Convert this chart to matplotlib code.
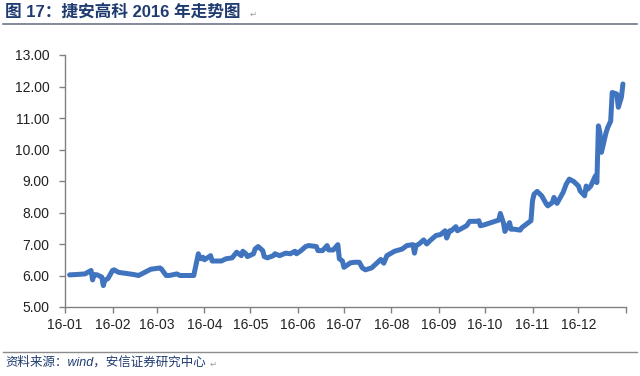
"""捷安高科 2016 年走势图."""
import datetime as dt

import matplotlib
matplotlib.use("Agg")
import matplotlib.pyplot as plt

plt.rcParams['font.family'] = ['Liberation Sans', 'Noto Sans CJK SC', 'DejaVu Sans']

line_color = "#4174BE"
title_color = "#1F3B70"
axis_color = "#808080"

dates = ["2016-01-04", "2016-01-08", "2016-01-14", "2016-01-18", "2016-01-19",
         "2016-01-20", "2016-01-22", "2016-01-25", "2016-01-26", "2016-01-27",
         "2016-01-29", "2016-02-01", "2016-02-02", "2016-02-05", "2016-02-15",
         "2016-02-18", "2016-02-22", "2016-02-24", "2016-02-26", "2016-03-03",
         "2016-03-04", "2016-03-07", "2016-03-09", "2016-03-14", "2016-03-16",
         "2016-03-25", "2016-03-28", "2016-03-29", "2016-03-30", "2016-03-31",
         "2016-04-01", "2016-04-05", "2016-04-06", "2016-04-12", "2016-04-15",
         "2016-04-19", "2016-04-22", "2016-04-25", "2016-04-26", "2016-04-28",
         "2016-04-29", "2016-05-03", "2016-05-04", "2016-05-06", "2016-05-09",
         "2016-05-10", "2016-05-12", "2016-05-16", "2016-05-17", "2016-05-20",
         "2016-05-24", "2016-05-27", "2016-05-30", "2016-05-31", "2016-06-03",
         "2016-06-06", "2016-06-08", "2016-06-13", "2016-06-14", "2016-06-17",
         "2016-06-20", "2016-06-21", "2016-06-24", "2016-06-27", "2016-06-28",
         "2016-06-30", "2016-07-01", "2016-07-04", "2016-07-05", "2016-07-08",
         "2016-07-11", "2016-07-13", "2016-07-15", "2016-07-19", "2016-07-25",
         "2016-07-27", "2016-07-29", "2016-08-03", "2016-08-08", "2016-08-11",
         "2016-08-15", "2016-08-16", "2016-08-17", "2016-08-19", "2016-08-22",
         "2016-08-24", "2016-08-26", "2016-08-30", "2016-09-02", "2016-09-05",
         "2016-09-06", "2016-09-08", "2016-09-09", "2016-09-12", "2016-09-13",
         "2016-09-19", "2016-09-21", "2016-09-26", "2016-09-27", "2016-09-28",
         "2016-09-30", "2016-10-10", "2016-10-11", "2016-10-13", "2016-10-14",
         "2016-10-17", "2016-10-18", "2016-10-20", "2016-10-24", "2016-10-25",
         "2016-10-28", "2016-10-31", "2016-11-01", "2016-11-02", "2016-11-04",
         "2016-11-07", "2016-11-10", "2016-11-11", "2016-11-14", "2016-11-15",
         "2016-11-17", "2016-11-21", "2016-11-23", "2016-11-25", "2016-11-28",
         "2016-12-01", "2016-12-02", "2016-12-05", "2016-12-06", "2016-12-07",
         "2016-12-09", "2016-12-12", "2016-12-13", "2016-12-14", "2016-12-15",
         "2016-12-16", "2016-12-19", "2016-12-20", "2016-12-22", "2016-12-23",
         "2016-12-26", "2016-12-27", "2016-12-29", "2016-12-30"]

prices = [6.02, 6.03, 6.05, 6.16, 5.86, 6.03, 6.02, 5.95, 5.68, 5.85,
          5.90, 6.16, 6.18, 6.10, 6.03, 6.00, 6.10, 6.15, 6.20, 6.24,
          6.20, 6.00, 6.00, 6.05, 6.00, 6.00, 6.69, 6.55, 6.53, 6.58,
          6.50, 6.63, 6.46, 6.46, 6.53, 6.56, 6.74, 6.63, 6.77, 6.69,
          6.60, 6.69, 6.84, 6.92, 6.79, 6.60, 6.56, 6.63, 6.69, 6.63,
          6.71, 6.69, 6.77, 6.69, 6.79, 6.92, 6.95, 6.92, 6.79, 6.79,
          6.95, 6.81, 6.81, 6.98, 6.53, 6.46, 6.26, 6.36, 6.40, 6.42,
          6.42, 6.24, 6.18, 6.24, 6.51, 6.39, 6.63, 6.77, 6.84, 6.95,
          6.98, 6.71, 6.95, 7.00, 7.13, 7.00, 7.10, 7.27, 7.30, 7.42,
          7.19, 7.42, 7.42, 7.55, 7.42, 7.58, 7.72, 7.72, 7.74, 7.58,
          7.60, 7.76, 7.97, 7.68, 7.40, 7.68, 7.47, 7.47, 7.44, 7.52,
          7.63, 7.74, 8.37, 8.58, 8.67, 8.53, 8.27, 8.21, 8.32, 8.48,
          8.29, 8.64, 8.90, 9.06, 8.98, 8.84, 8.69, 8.53, 8.84, 8.74,
          8.84, 9.16, 8.95, 10.75, 10.54, 9.91, 10.54, 10.69, 10.90, 11.81,
          11.76, 11.34, 11.66, 12.08]

y_ticks = [5, 6, 7, 8, 9, 10, 11, 12, 13]
month_labels = ["16-01", "16-02", "16-03", "16-04", "16-05", "16-06",
                "16-07", "16-08", "16-09", "16-10", "16-11", "16-12", ""]

title = "图 17：捷安高科 2016 年走势图"
source = "资料来源：wind，安信证券研究中心"

x = [dt.datetime.strptime(d, "%Y-%m-%d") for d in dates]
month_ticks = [dt.datetime(2016, m, 1) for m in range(1, 13)] + [dt.datetime(2017, 1, 1)]

fig = plt.figure(figsize=(6.4, 3.76), dpi=100)
ax = fig.add_axes([65/640, 1 - 307/376, (626 - 65)/640, (307 - 55)/376])

ax.plot(x, prices, color=line_color, linewidth=3.6, solid_joinstyle="round",
        solid_capstyle="round", clip_on=False, zorder=3)

ax.set_xlim(dt.datetime(2016, 1, 1), dt.datetime(2017, 1, 1))
ax.set_ylim(5, 13)
ax.set_yticks(y_ticks)
ax.set_yticklabels(["%.2f" % v for v in y_ticks])
ax.set_xticks(month_ticks)
ax.set_xticklabels(month_labels)

for side in ["top", "right"]:
    ax.spines[side].set_visible(False)
for side in ["left", "bottom"]:
    ax.spines[side].set_color(axis_color)
    ax.spines[side].set_linewidth(1.0)

ax.tick_params(axis="both", direction="out", length=4, width=1.0,
               color=axis_color, labelsize=10, labelcolor="#222222")
ax.tick_params(axis="y", pad=7)
ax.tick_params(axis="x", pad=4)

# header and footer
fig.text(5/640, 1 - 12/376, title, fontsize=12, fontweight="bold",
         color=title_color, va="center", ha="left",
         family=['Liberation Sans', 'Noto Sans CJK SC'])
fig.text(250/640, 1 - 14/376, "↵", fontsize=6, color="#999999",
         va="center", ha="left", family=['DejaVu Sans'])
fig.add_artist(plt.Line2D([3/640, 637/640], [1 - 24/376, 1 - 24/376],
                          color="#6E7587", linewidth=1.2))
fig.add_artist(plt.Line2D([3/640, 637/640], [1 - 352/376, 1 - 352/376],
                          color="#8C8C8C", linewidth=1.0))
fig.text(5/640, 1 - 362/376, source, fontsize=9, color=title_color,
         style="italic", va="center", ha="left",
         family=['Liberation Sans', 'Noto Sans CJK SC'])
fig.text(210/640, 1 - 364/376, "↵", fontsize=6, color="#999999",
         va="center", ha="left", family=['DejaVu Sans'])

fig.savefig("out.png", dpi=100)
